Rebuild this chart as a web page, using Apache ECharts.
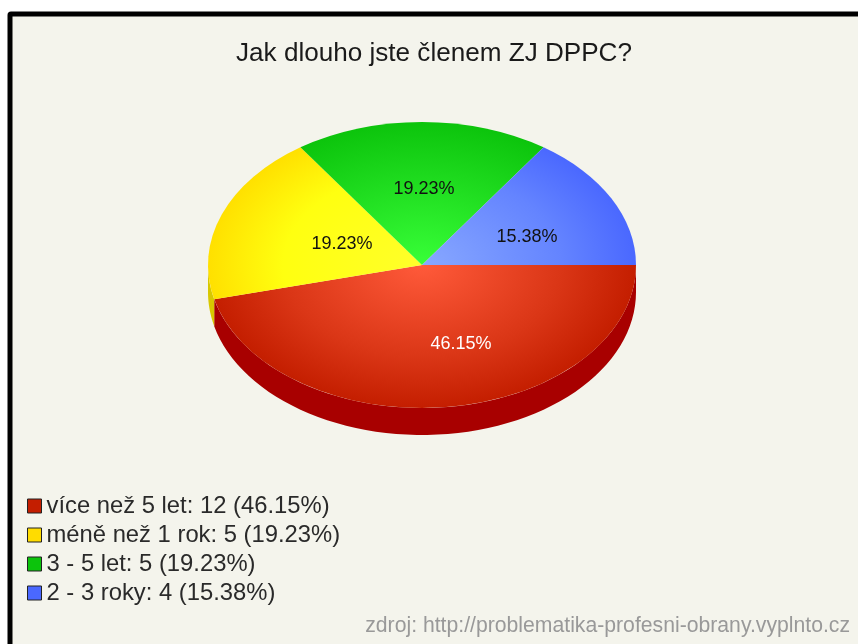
<!DOCTYPE html>
<html>
<head>
<meta charset="utf-8">
<style>
  html, body { margin: 0; padding: 0; background: #fff; }
  #chart { width: 858px; height: 644px; }
</style>
<script src="https://cdn.jsdelivr.net/npm/echarts@6/dist/echarts.min.js"></script>
</head>
<body>
<div id="chart"></div>
<script>
const categories = ['více než 5 let', 'méně než 1 rok', '3 - 5 let', '2 - 3 roky']
const counts = [12, 5, 5, 4]

const total = counts.reduce((a, b) => a + b, 0)
const percents = counts.map(v => (v / total * 100).toFixed(2) + '%')
const legendNames = categories.map((c, i) => `${c}: ${counts[i]} (${percents[i]})`)

// look of the slices: [centre, middle, edge, wall]
const sliceColors = [
  ['#ff5a3a', '#da3616', '#c41e00', '#a80000'],
  ['#ffff2a', '#ffff10', '#ffe000', '#d8c800'],
  ['#38ff38', '#1cd81c', '#0cc40c', '#0a9a0a'],
  ['#88a8ff', '#6484ff', '#4a68ff', '#3048c0'],
]
const legendColors = ['#c41e00', '#ffdc00', '#0cc40c', '#4a68ff']
const labelColors = ['#fff', '#111', '#111', '#111']
const labelOffsets = [[39, 79], [-80, -21], [2, -76], [105, -28]]

const CX = 422, CY = 265, RX = 214, RY = 143, DEPTH = 27
const FONT = '"Liberation Sans", Arial, sans-serif'

function angleAt(i) {
  let sum = 0
  for (let k = 0; k < i; k++) sum += counts[k]
  return sum / total * Math.PI * 2
}

// outer wall of the slice, only the part facing the viewer
function wallPoints(a0, a1) {
  const end = Math.min(a1, Math.PI)
  if (a0 >= end) return null
  const top = [], bottom = []
  for (let j = 0; j <= 60; j++) {
    const a = a0 + (end - a0) * j / 60
    const x = CX + RX * Math.cos(a), y = CY + RY * Math.sin(a)
    top.push([x, y])
    bottom.unshift([x, y + DEPTH])
  }
  return top.concat(bottom)
}

function renderSlice(params, api) {
  const i = params.seriesIndex
  const value = api.value(0)
  const a0 = angleAt(i)
  const a1 = a0 + value / total * Math.PI * 2
  const children = []
  const wall = wallPoints(a0, a1)
  if (wall) {
    children.push({
      type: 'polygon',
      shape: { points: wall },
      style: { fill: sliceColors[i][3] },
    })
  }
  children.push({
    type: 'sector',
    x: CX,
    y: CY,
    scaleY: RY / RX,
    shape: { cx: 0, cy: 0, r0: 0, r: RX, startAngle: a0, endAngle: a1, clockwise: true },
    style: {
      fill: {
        type: 'radial', x: 0, y: 0, r: RX, global: true,
        colorStops: [
          { offset: 0, color: sliceColors[i][0] },
          { offset: 0.65, color: sliceColors[i][1] },
          { offset: 1, color: sliceColors[i][2] },
        ],
      },
    },
  })
  children.push({
    type: 'text',
    x: CX + labelOffsets[i][0],
    y: CY + labelOffsets[i][1],
    z2: 10,
    style: {
      text: percents[i],
      fill: labelColors[i],
      font: '18px ' + FONT,
      align: 'center',
      verticalAlign: 'middle',
    },
  })
  return { type: 'group', children }
}

const chart = echarts.init(document.getElementById('chart'), null, { renderer: 'canvas' })
chart.setOption({
  animation: false,
  backgroundColor: '#fff',
  graphic: [{
    type: 'rect',
    z: -10,
    shape: { x: 10, y: 14, width: 900, height: 700, r: 1 },
    style: { fill: '#f4f4ec', stroke: '#000', lineWidth: 5 },
  }],
  title: [{
    text: 'Jak dlouho jste členem ZJ DPPC?',
    left: 429,
    top: 36,
    textAlign: 'center',
    textStyle: { color: '#1a1a1a', fontFamily: FONT, fontSize: 26.1, fontWeight: 'normal' },
  }, {
    text: 'zdroj: http://problematika-profesni-obrany.vyplnto.cz',
    right: 3,
    top: 611,
    textStyle: { color: '#999', fontFamily: FONT, fontSize: 21.2, fontWeight: 'normal' },
  }],
  legend: {
    orient: 'vertical',
    left: 27,
    top: 494,
    padding: 0,
    itemWidth: 14,
    itemHeight: 14,
    itemGap: 5,
    itemTextGap: 6,
    icon: 'rect',
    selectedMode: false,
    textStyle: { color: '#2a2a2a', fontFamily: FONT, fontSize: 23.8, height: 20, lineHeight: 20 },
    data: legendNames.map((name, i) => ({
      name,
      itemStyle: { color: legendColors[i], borderColor: '#222', borderWidth: 1 },
    })),
  },
  series: counts.map((v, i) => ({
    type: 'custom',
    name: legendNames[i],
    coordinateSystem: 'none',
    renderItem: renderSlice,
    data: [[v]],
    silent: true,
  })),
})
</script>
</body>
</html>
